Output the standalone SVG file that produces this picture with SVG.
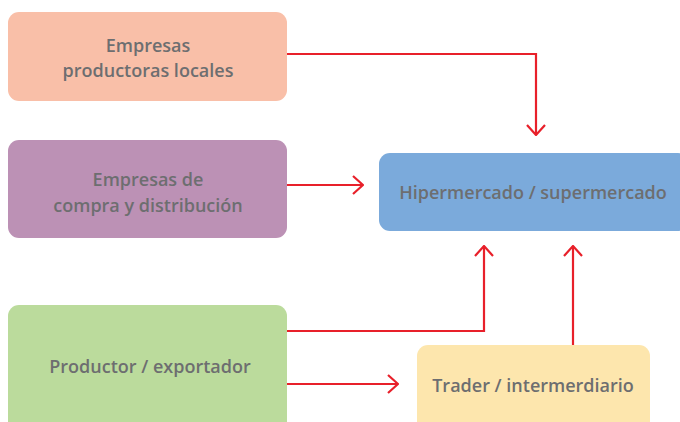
<svg xmlns="http://www.w3.org/2000/svg" width="680" height="422" viewBox="0 0 680 422">
  <defs>
    <style>
      .lbl { font-family: "Open Sans", "Liberation Sans", sans-serif; font-weight: 600; font-size: 18px; fill: #6d6e70; text-anchor: middle; }
      .conn { fill: none; stroke: #e8202a; stroke-width: 2.2; }
    </style>
    <marker id="arrow" viewBox="0 0 12 20" refX="11" refY="10" markerWidth="12" markerHeight="20" markerUnits="userSpaceOnUse" orient="auto">
      <path d="M1,1 L11,10 L1,19" fill="none" stroke="#e8202a" stroke-width="2.2"/>
    </marker>
  </defs>
  <rect width="680" height="422" fill="#ffffff"/>

  <g id="empresas-productoras">
    <rect x="8" y="12" width="279" height="89" rx="11" fill="#f9bfa8"/>
    <text class="lbl" x="148" y="52">Empresas</text>
    <text class="lbl" x="148" y="77">productoras locales</text>
  </g>

  <g id="empresas-compra">
    <rect x="8" y="140" width="279" height="98" rx="11" fill="#bc91b5"/>
    <text class="lbl" x="148" y="186">Empresas de</text>
    <text class="lbl" x="148" y="212">compra y distribución</text>
  </g>

  <g id="hipermercado">
    <rect x="379" y="153" width="310" height="78" rx="11" fill="#7baadb"/>
    <text class="lbl" x="533" y="199">Hipermercado / supermercado</text>
  </g>

  <g id="productor">
    <rect x="8" y="305" width="279" height="130" rx="11" fill="#bbdb9c"/>
    <text class="lbl" x="150" y="373">Productor / exportador</text>
  </g>

  <g id="trader">
    <rect x="417" y="345" width="233" height="90" rx="11" fill="#fde6ad"/>
    <text class="lbl" x="533" y="392">Trader / intermerdiario</text>
  </g>

  <g id="connectors">
    <path class="conn" d="M287,54 H536 V135" marker-end="url(#arrow)"/>
    <path class="conn" d="M287,185 H363" marker-end="url(#arrow)"/>
    <path class="conn" d="M287,331 H484 V246" marker-end="url(#arrow)"/>
    <path class="conn" d="M573,345 V246" marker-end="url(#arrow)"/>
    <path class="conn" d="M287,384 H398" marker-end="url(#arrow)"/>
  </g>
</svg>
